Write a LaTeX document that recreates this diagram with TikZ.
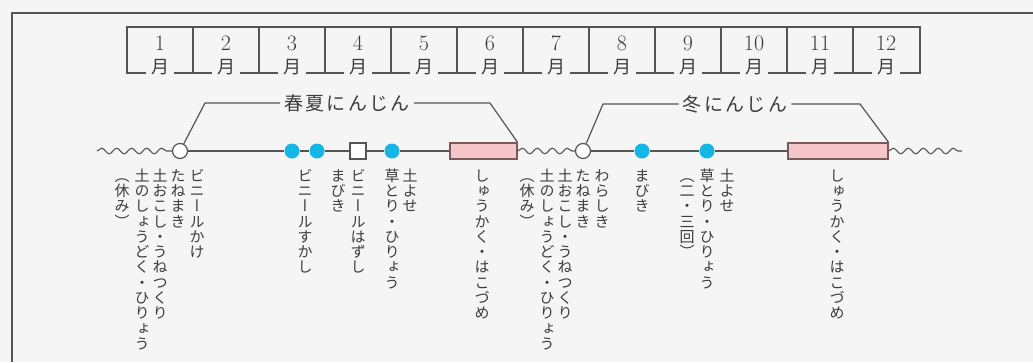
\documentclass[tikz,border=0pt]{standalone}
\usepackage{fontspec}
\usetikzlibrary{decorations.pathmorphing}
\newfontfamily\jp{Noto Sans CJK JP}
\newfontfamily\midashifont[LetterSpace=12]{Noto Sans CJK JP}
\newfontfamily\tatefont[RawFeature=+vert]{Noto Sans CJK JP}
\definecolor{haikei}{RGB}{245,245,245}
\definecolor{sen}{RGB}{85,85,85}
\definecolor{moji}{RGB}{60,60,60}
\definecolor{ao}{RGB}{20,182,230}
\definecolor{momo}{RGB}{247,198,202}
\definecolor{momowaku}{RGB}{120,90,90}
% 縦書き（1文字ずつ積む）
\ExplSyntaxOn
\NewDocumentCommand\tate{m}
  {
    \tl_set:Nx \l_tmpa_tl {#1}
    \vbox:n
      {
        \offinterlineskip
        \tl_map_inline:Nn \l_tmpa_tl
          { \hbox_to_wd:nn {1em} { \hss \rule[-.16em]{0pt}{1.02em} ##1 \hss } }
      }
  }
\ExplSyntaxOff
\tikzset{
  waku/.style={sen,line width=1.2pt},
  wave/.style={sen,line width=1.1pt,decorate,decoration={snake,segment length=15pt,amplitude=2.8pt}},
  maru/.style={circle,draw=sen,fill=white,line width=1.2pt,minimum size=15pt,inner sep=0pt},
  ten/.style={circle,fill=ao,minimum size=15pt,inner sep=0pt},
  shikaku/.style={rectangle,draw=sen,fill=white,line width=1.2pt,minimum size=16pt,inner sep=0pt},
  obi/.style={rectangle,draw=momowaku,fill=momo,line width=1.2pt,minimum height=16pt,inner sep=0pt},
  tsuki/.style={text=moji,inner sep=0pt,font=\fontsize{22}{22}\selectfont},
  gatsu/.style={anchor=south,fill=haikei,inner xsep=5pt,inner ysep=1pt,text=moji,font=\fontsize{18}{18}\selectfont\jp},
  midashi/.style={text=moji,inner sep=4pt,font=\fontsize{19}{19}\selectfont\midashifont},
  tatelabel/.style={anchor=north,inner sep=0pt,text=moji,font=\fontsize{15}{15}\selectfont\tatefont},
}
\begin{document}
\begin{tikzpicture}[x=1pt,y=-1pt]
  \useasboundingbox (0,0) rectangle (1033,362);
  \fill[haikei] (0,0) rectangle (1033,362);
  \draw[waku] (12,362) -- (12,13) -- (1033,13); %外枠

  % 月の帯
  \draw[waku] (127,27) rectangle (920,73);
  \foreach \m in {1,...,11} \draw[waku] ({127+66*\m},27) -- ({127+66*\m},73);
  \foreach \m in {1,...,12} {
    \node[tsuki] (n\m) at ({127+66*(\m-0.5)},43) {\m};
    \node[gatsu] (g\m) at ({127+66*(\m-0.5)},76) {月};
  }

  % 作業の線
  \node[maru] (c1) at (180,151) {};
  \node[ten] (d1) at (292,151) {};
  \node[ten] (d2) at (317,151) {};
  \node[shikaku] (sq) at (358,151) {};
  \node[ten] (d3) at (392,151) {};
  \node[obi,minimum width=67pt] (r1) at (483.5,151) {};
  \node[maru] (c2) at (583,151) {};
  \node[ten] (d4) at (642,151) {};
  \node[ten] (d5) at (707,151) {};
  \node[obi,minimum width=100pt] (r2) at (838,151) {};
  \coordinate (w1) at (97,151);
  \coordinate (w3) at (962,151);
  \draw[wave] (w1) -- (c1.west);
  \draw[wave] (r1.east) -- (c2.west);
  \draw[wave] (r2.east) -- (w3);
  \draw[waku] (c1) -- (d1) -- (d2) -- (sq) -- (d3) -- (r1);
  \draw[waku] (c2) -- (d4) -- (d5) -- (r2);

  % 春夏・冬
  \node[midashi] (haru) at (347,103) {春夏にんじん};
  \coordinate (haruL) at (205,103);
  \coordinate (haruR) at (490,103);
  \draw[waku] (c1) -- (haruL) -- (haru);
  \draw[waku] (haru) -- (haruR) -- (r1.north east);
  \node[midashi] (fuyu) at (735,104) {冬にんじん};
  \coordinate (fuyuL) at (603,104);
  \coordinate (fuyuR) at (860,104);
  \draw[waku] (c2) -- (fuyuL) -- (fuyu);
  \draw[waku] (fuyu) -- (fuyuR) -- (r2.north east);

  % 縦書きの作業名
  \foreach \x/\t [count=\i] in {197/ビニールかけ, 178/たねまき, 160/土おこし・うねつくり,
      142/土のしょうどく・ひりょう, 122/（休み）, 305/ビニールすかし, 358/ビニールはずし,
      338/まびき, 410/土よせ, 392/草とり・ひりょう, 482/しゅうかく・はこづめ,
      602/わらしき, 583/たねまき, 565/土おこし・うねつくり, 547/土のしょうどく・ひりょう,
      527/（休み）, 642/まびき, 727/土よせ, 707/草とり・ひりょう, 687/（二・三回）,
      837/しゅうかく・はこづめ}
    \node[tatelabel] (v\i) at (\x,168) {\tate{\t}};
\end{tikzpicture}
\end{document}
